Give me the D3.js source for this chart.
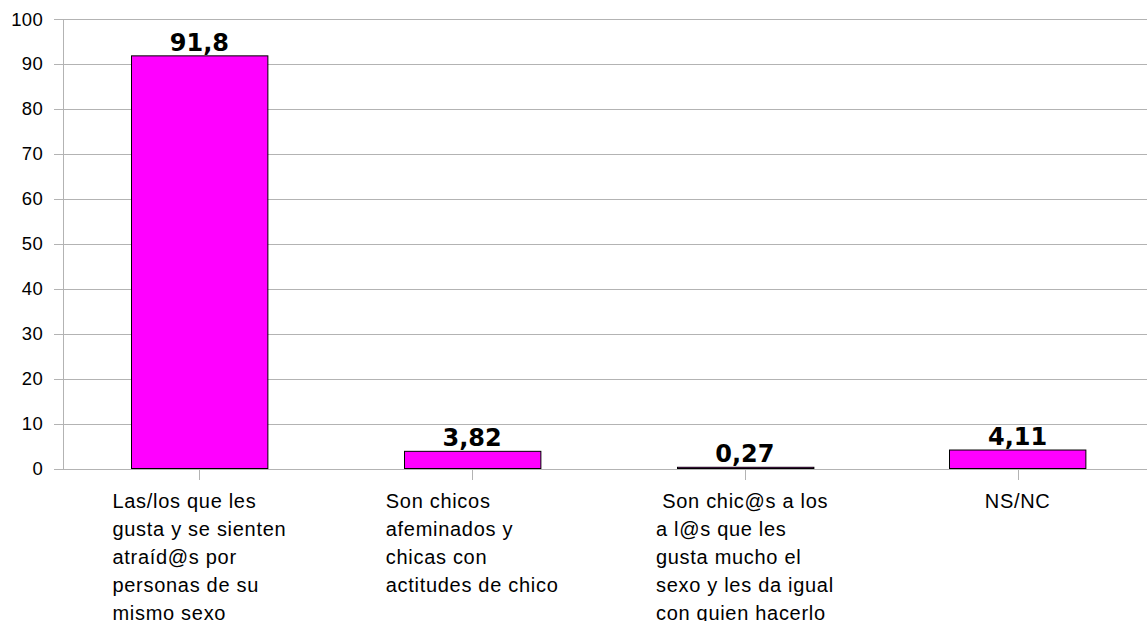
<!DOCTYPE html>
<html>
<head>
<meta charset="utf-8">
<script src="https://cdn.jsdelivr.net/npm/d3@7"></script>
<style>
  body { margin: 0; background: #fff; }
  svg { display: block; }
  .cat text { white-space: pre; }
</style>
</head>
<body>
<div id="chart"></div>
<script>
// Data
const categories = [
  ["Las/los que les", "gusta y se sienten", "atraíd@s por", "personas de su", "mismo sexo"],
  ["Son chicos", "afeminados y", "chicas con", "actitudes de chico"],
  [" Son chic@s a los", "a l@s que les", "gusta mucho el", "sexo y les da igual", "con quien hacerlo"],
  ["NS/NC"]
];
const values = [91.8, 3.82, 0.27, 4.11];
const valueLabels = ["91,8", "3,82", "0,27", "4,11"];
const yTicks = [0, 10, 20, 30, 40, 50, 60, 70, 80, 90, 100];

const W = 1147, H = 621;
const margin = { top: 19, left: 63, bottom: 153 };
const plotRight = 1154;

const svg = d3.select("#chart").append("svg")
    .attr("width", W)
    .attr("height", H);

const x = d3.scaleBand()
    .domain(d3.range(values.length))
    .range([margin.left, plotRight])
    .paddingInner(0.5)
    .paddingOuter(0.25);

const y = d3.scaleLinear()
    .domain([0, 100])
    .range([H - margin.bottom + 0.5, margin.top]);

const grey = "#b3b3b3";

// gridlines
svg.append("g")
  .selectAll("line")
  .data(yTicks)
  .join("line")
    .attr("x1", margin.left - 9)
    .attr("x2", W)
    .attr("y1", d => Math.round(y(d)) + 0.5)
    .attr("y2", d => Math.round(y(d)) + 0.5)
    .attr("stroke", grey)
    .attr("stroke-width", 1);

// y axis line
svg.append("line")
    .attr("x1", margin.left + 0.5)
    .attr("x2", margin.left + 0.5)
    .attr("y1", Math.round(y(100)))
    .attr("y2", Math.round(y(0)) + 1)
    .attr("stroke", grey);

// y tick labels
svg.append("g")
  .selectAll("text")
  .data(yTicks)
  .join("text")
    .attr("x", 43)
    .attr("y", d => y(d) + 6.5)
    .attr("text-anchor", "end")
    .style("font-family", "Liberation Sans, Arial, sans-serif")
    .style("font-size", "18.5px")
    .style("letter-spacing", "0.3px")
    .text(d => d);

// x ticks
svg.append("g")
  .selectAll("line")
  .data(d3.range(values.length))
  .join("line")
    .attr("x1", i => Math.round(x(i) + x.bandwidth() / 2) + 0.5)
    .attr("x2", i => Math.round(x(i) + x.bandwidth() / 2) + 0.5)
    .attr("y1", Math.round(y(0)))
    .attr("y2", Math.round(y(0)) + 11)
    .attr("stroke", grey);

// bars
svg.append("g")
  .selectAll("rect")
  .data(values)
  .join("rect")
    .attr("x", (d, i) => Math.round(x(i)) + 0.5)
    .attr("y", d => y(d))
    .attr("width", x.bandwidth())
    .attr("height", d => y(0) - y(d))
    .attr("fill", "#ff00ff")
    .attr("stroke", "#000")
    .attr("stroke-width", 1);

// value labels
svg.append("g")
  .selectAll("text")
  .data(values)
  .join("text")
    .attr("x", (d, i) => x(i) + x.bandwidth() / 2)
    .attr("y", d => y(d) - 5)
    .attr("text-anchor", "middle")
    .style("font-family", "DejaVu Sans, sans-serif")
    .style("font-weight", "bold")
    .style("font-size", "24px")
    .text((d, i) => valueLabels[i]);

// category labels, lines left-aligned inside a block centred on the tick
const cats = svg.append("g").attr("class", "cat")
    .style("font-family", "Liberation Sans, Arial, sans-serif")
    .style("font-size", "20px")
    .style("letter-spacing", "0.7px");

categories.forEach((lines, i) => {
  const cx = x(i) + x.bandwidth() / 2;
  const t = cats.append("text").attr("y", 508);
  lines.forEach((ln, j) => {
    t.append("tspan")
      .attr("y", 508 + j * 28.1)
      .text(ln);
  });
  const maxW = d3.max(t.selectAll("tspan").nodes(), n => n.getComputedTextLength());
  t.selectAll("tspan").attr("x", cx - maxW / 2);
});
</script>
</body>
</html>
